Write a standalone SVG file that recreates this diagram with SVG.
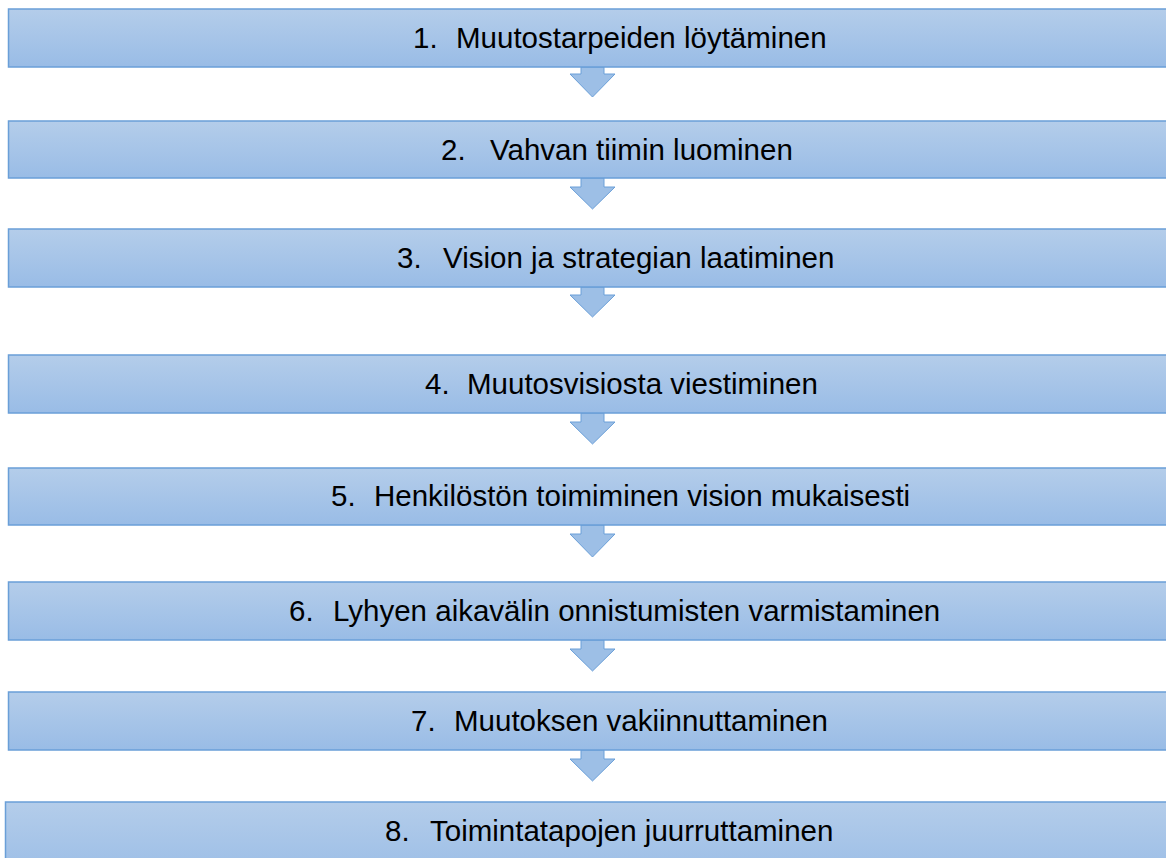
<svg xmlns="http://www.w3.org/2000/svg" width="1166" height="858" viewBox="0 0 1166 858">
<defs>
<linearGradient id="g" x1="0" y1="0" x2="0" y2="1">
<stop offset="0" stop-color="#b4cdea"/>
<stop offset="1" stop-color="#99bce6"/>
</linearGradient>
<style>
.box{fill:url(#g);stroke:#6a9fd8;stroke-width:1.5}
.arr{fill:#9dbfe6;stroke:#6a9fd8;stroke-width:1}
.t{font-family:"Liberation Sans",Arial,sans-serif;font-size:29.5px;fill:#000}
</style>
</defs>
<rect width="1166" height="858" fill="#fff"/>
<g id="connectors">
<path class="arr" d="M581,67 V74 H570 L592.5,97 L615,74 H604 V67 Z"/>
<path class="arr" d="M581,178 V187 H570 L592.5,209 L615,187 H604 V178 Z"/>
<path class="arr" d="M581,287 V295 H570 L592.5,317 L615,295 H604 V287 Z"/>
<path class="arr" d="M581,413 V422 H570 L592.5,444 L615,422 H604 V413 Z"/>
<path class="arr" d="M581,525 V534 H570 L592.5,557 L615,534 H604 V525 Z"/>
<path class="arr" d="M581,640 V649 H570 L592.5,671 L615,649 H604 V640 Z"/>
<path class="arr" d="M581,750 V759 H570 L592.5,781 L615,759 H604 V750 Z"/>
</g>
<g id="node1"><rect class="box" x="8.5" y="9" width="1200" height="58"/><text class="t" y="48"><tspan x="413">1.</tspan><tspan x="456">Muutostarpeiden löytäminen</tspan></text></g>
<g id="node2"><rect class="box" x="8.5" y="121" width="1200" height="57"/><text class="t" y="160"><tspan x="441">2.</tspan><tspan x="490">Vahvan tiimin luominen</tspan></text></g>
<g id="node3"><rect class="box" x="8.5" y="229" width="1200" height="58"/><text class="t" y="268"><tspan x="397">3.</tspan><tspan x="443">Vision ja strategian laatiminen</tspan></text></g>
<g id="node4"><rect class="box" x="8.5" y="355" width="1200" height="58"/><text class="t" y="394"><tspan x="425">4.</tspan><tspan x="467">Muutosvisiosta viestiminen</tspan></text></g>
<g id="node5"><rect class="box" x="8.5" y="468" width="1200" height="57"/><text class="t" y="506"><tspan x="331">5.</tspan><tspan x="374">Henkilöstön toimiminen vision mukaisesti</tspan></text></g>
<g id="node6"><rect class="box" x="8.5" y="582" width="1200" height="58"/><text class="t" y="621"><tspan x="289">6.</tspan><tspan x="333">Lyhyen aikavälin onnistumisten varmistaminen</tspan></text></g>
<g id="node7"><rect class="box" x="8.5" y="692" width="1200" height="58"/><text class="t" y="731"><tspan x="411">7.</tspan><tspan x="454">Muutoksen vakiinnuttaminen</tspan></text></g>
<g id="node8"><rect class="box" x="5.5" y="802" width="1200" height="80"/><text class="t" y="841"><tspan x="385">8.</tspan><tspan x="430">Toimintatapojen juurruttaminen</tspan></text></g>
</svg>
